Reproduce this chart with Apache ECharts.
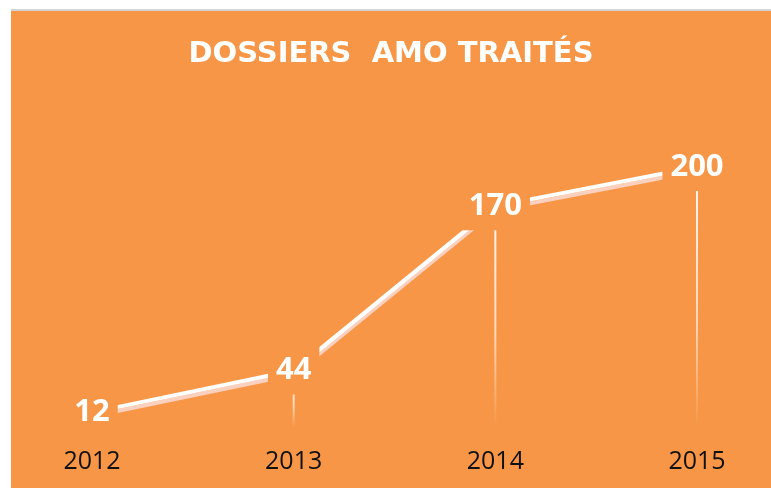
<!DOCTYPE html>
<html>
<head>
<meta charset="utf-8">
<script src="https://cdn.jsdelivr.net/npm/echarts@6/dist/echarts.min.js"></script>
<style>
	html,body{margin:0;padding:0;background:#fff;}
	#frame{position:absolute;left:11px;top:9px;width:760px;height:479px;border-top:2px solid #d4d4d4;}
	#main{width:760px;height:477px;}
</style>
</head>
<body>
<div id="frame"><div id="main"></div></div>
<script>
var years=['2012','2013','2014','2015'];
var dossiers=[12,44,170,200];

var myChart=echarts.init(document.getElementById('main'));
var option={
	backgroundColor:'#F79646',
	title:{
		text:'DOSSIERS  AMO TRAITÉS',
		left:'center',
		top:24,
		textStyle:{color:'#fff',fontFamily:'DejaVu Sans',fontWeight:'bold',fontSize:29}
	},
	grid:{left:81,right:74,top:156,bottom:60},
	xAxis:{
		type:'category',
		data:years,
		boundaryGap:false,
		axisLine:{show:false},
		axisTick:{show:false},
		axisLabel:{color:'#111',fontFamily:'Open Sans',fontSize:25,lineHeight:25,margin:21}
	},
	yAxis:{
		type:'value',
		min:0,
		max:200,
		show:false,
		splitLine:{show:false}
	},
	series:[
		{
			// lignes de rappel verticales
			type:'bar',
			data:dossiers,
			barWidth:2,
			z:1,
			silent:true,
			itemStyle:{
				color:new echarts.graphic.LinearGradient(0,0,0,1,[
					{offset:0,color:'rgba(255,255,255,0.95)'},
					{offset:0.6,color:'rgba(255,255,255,0.6)'},
					{offset:1,color:'rgba(255,255,255,0)'}
				])
			}
		},
		{
			type:'line',
			data:dossiers,
			z:3,
			symbol:'circle',
			symbolSize:1,
			showAllSymbol:true,
			itemStyle:{color:'rgba(0,0,0,0)'},
			lineStyle:{
				color:'#fff',
				width:4,
				shadowColor:'rgba(252,208,190,1)',
				shadowOffsetY:4,
				shadowBlur:0
			},
			label:{
				show:true,
				position:'inside',
				color:'#fff',
				fontFamily:'Open Sans',
				fontWeight:'bold',
				fontSize:31,
				lineHeight:30,
				backgroundColor:'#F79646',
				padding:[9,8]
			}
		}
	]
};
myChart.setOption(option);
</script>
</body>
</html>
